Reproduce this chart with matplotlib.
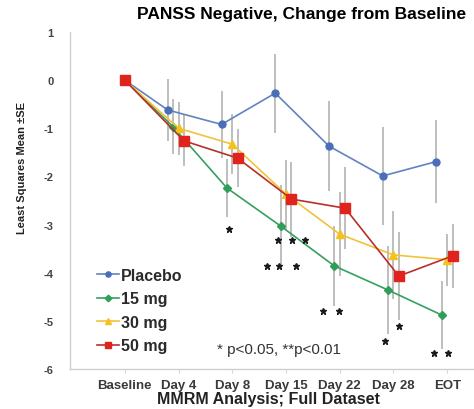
import numpy as np
import matplotlib
matplotlib.use("Agg")
import matplotlib.pyplot as plt

# Data -----

visits = ["Baseline", "Day 4", "Day 8", "Day 15", "Day 22", "Day 28", "EOT"]
groups = ["Placebo", "15 mg", "30 mg", "50 mg"]

placebo_mean = [0, -0.62, -0.92, -0.27, -1.37, -1.99, -1.69]
placebo_se = [0, 0.64, 0.70, 0.82, 0.93, 1.02, 0.86]
mg15_mean = [0, -0.97, -2.24, -3.03, -3.86, -4.36, -4.88]
mg15_se = [0, 0.57, 0.60, 0.85, 0.84, 0.92, 0.71]
mg30_mean = [0, -1.00, -1.33, -2.37, -3.20, -3.63, -3.73]
mg30_se = [0, 0.55, 0.62, 0.72, 0.87, 0.91, 0.54]
mg50_mean = [0, -1.26, -1.62, -2.47, -2.66, -4.07, -3.65]
mg50_se = [0, 0.53, 0.60, 0.78, 0.85, 0.92, 0.67]

# significance stars (x in visit units, y in score units)
star_x = [1.94, 2.85, 3.11, 3.35, 2.64, 2.87, 3.18, 3.69, 3.99, 4.84, 5.10, 5.75, 6.01]
star_y = [-3.09, -3.32, -3.32, -3.32, -3.86, -3.86, -3.86, -4.79, -4.79, -5.41, -5.10, -5.66, -5.66]

note = "* p<0.05, **p<0.01"

# Style -----

plt.rcParams["font.family"] = ["Liberation Sans", "DejaVu Sans"]
plt.rcParams["axes.unicode_minus"] = False

means = [placebo_mean, mg15_mean, mg30_mean, mg50_mean]
ses = [placebo_se, mg15_se, mg30_se, mg50_se]
offsets = [-0.2, -0.1, 0.0, 0.1]
line_colors = ["#6383c0", "#35a060", "#f2c23a", "#b8302a"]
marker_colors = ["#4a6fb8", "#2f9e58", "#f5c21c", "#e0231c"]
markers = ["o", "D", "^", "s"]
msizes = [5, 4.5, 5.5, 6.5]

# Plot -----

fig = plt.figure(figsize=(4.74, 4.10), dpi=100)
ax = fig.add_axes([70 / 474, 1 - 370 / 410, 403 / 474, 337 / 410])

pos = np.arange(len(visits))

# grey error bars first so the lines sit on top
for m, s, off in zip(means, ses, offsets):
    x = pos + off * (pos > 0)
    ax.errorbar(x[1:], m[1:], yerr=s[1:], fmt="none", ecolor="#b9b9b9",
                elinewidth=1.3, capsize=0, zorder=1)

for m, off, lc, mc, mk, ms, lab in zip(means, offsets, line_colors, marker_colors,
                                       markers, msizes, groups):
    x = pos + off * (pos > 0)
    ax.plot(x, m, color=lc, linewidth=1.2, marker=mk, markersize=ms,
            markerfacecolor=mc, markeredgecolor=mc, label=lab, zorder=3)

ax.plot(star_x, star_y, linestyle="none", marker="*", markersize=5,
        color="#1a1a1a", zorder=4)

ax.set_xlim(-1.02, 6.48)
ax.set_ylim(-6, 1)
ax.set_xticks(pos)
ax.set_xticklabels(visits, fontsize=9.5, fontweight="bold", color="#3a3a3a")
ax.set_yticks(range(-6, 2))
ax.set_yticklabels([str(v) for v in range(-6, 2)], fontsize=8, fontweight="bold",
                   color="#444444")
ax.tick_params(axis="y", length=0, pad=12)
ax.tick_params(axis="x", length=3, color="#d8d8d8", pad=4)

for side in ["top", "right"]:
    ax.spines[side].set_visible(False)
for side in ["left", "bottom"]:
    ax.spines[side].set_color("#d0d0d0")
    ax.spines[side].set_linewidth(1)

ax.text(1.71, -5.58, note, fontsize=11, color="#333333", va="center")

leg = ax.legend(loc="upper left", bbox_to_anchor=(97 / 474, 1 - 269 / 410),
                bbox_transform=fig.transFigure, frameon=False, borderpad=0,
                borderaxespad=0, handlelength=1.35, handletextpad=0.15,
                labelspacing=0.53, markerscale=0.75,
                prop={"size": 11.5, "weight": "bold"})
for t in leg.get_texts():
    t.set_color("#2a2a2a")

fig.text(302 / 474, 1 - 15 / 410, "PANSS Negative, Change from Baseline",
         ha="center", va="center", fontsize=12.5, fontweight="bold")
fig.text(268 / 474, 1 - 400 / 410, "MMRM Analysis; Full Dataset",
         ha="center", va="center", fontsize=11.5, fontweight="bold", color="#222222")
fig.text(22 / 474, 1 - 168 / 410, "Least Squares Mean \u00b1SE", rotation=90,
         ha="center", va="center", fontsize=8, fontweight="bold", color="#222222")

fig.savefig("out.png", dpi=100)
